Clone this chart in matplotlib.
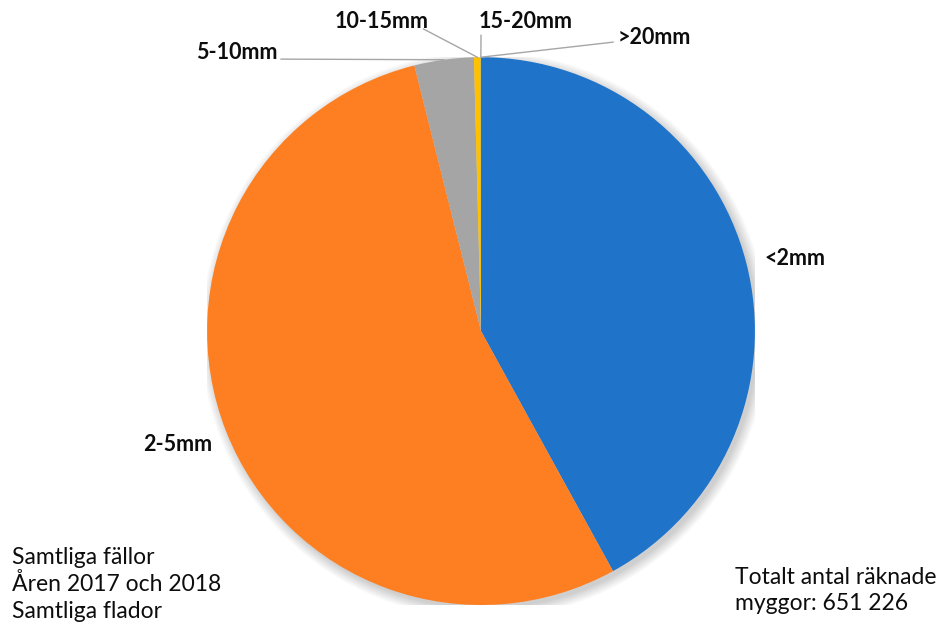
import numpy as np
import matplotlib
matplotlib.use("Agg")
import matplotlib.pyplot as plt
from matplotlib.patches import Circle

# mosquito counts per body-length class
size_classes = ["<2mm", "2-5mm", "5-10mm", "10-15mm", "15-20mm", ">20mm"]
counts = [273500, 352236, 22800, 2600, 60, 30]
colors = ["#1F74C9", "#FD7F22", "#A5A5A5", "#FFC000", "#5B9BD5", "#70AD47"]

# label anchor (data units around the pie) and alignment for each class
label_pos = [(1.035, 0.266), (-1.235, -0.415), (-0.742, 1.017),
             (-0.190, 1.132), (-0.007, 1.132), (0.500, 1.072)]
label_ha = ["left", "left", "right", "right", "left", "left"]
# where each leader line leaves the label (None = no line)
leader_from = [None, None, (-0.73, 0.993), (-0.21, 1.103), (0.0, 1.08), (0.482, 1.055)]

notes_left = ["Samtliga fällor", "Åren 2017 och 2018", "Samtliga flador"]
notes_right = ["Totalt antal räknade", "myggor: 651 226"]

plt.rcParams["font.family"] = ["Lato", "DejaVu Sans"]

fig = plt.figure(figsize=(9.48, 6.37), dpi=100)
ax = fig.add_axes([0.2184, 0.0502, 0.578, 0.860])

# soft drop shadow under the pie
for i in range(8):
    ax.add_patch(Circle((0.012, -0.014), 1.0 + i * 0.005, color="black",
                        alpha=0.025, lw=0, zorder=0))

wedges, _ = ax.pie(counts, colors=colors, startangle=90, counterclock=False,
                   radius=1, wedgeprops=dict(linewidth=0))
for w in wedges:
    w.set_zorder(2)

ax.set_xlim(-1, 1)
ax.set_ylim(-1, 1)
ax.set_aspect("equal")
ax.axis("off")

for w, name, pos, ha, start in zip(wedges, size_classes, label_pos, label_ha, leader_from):
    ax.text(pos[0], pos[1], name, ha=ha, va="center", fontsize=15.5,
            fontweight="bold", color="#0D0D0D")
    if start is not None:
        mid = np.deg2rad((w.theta1 + w.theta2) / 2)
        ax.plot([start[0], np.cos(mid)], [start[1], np.sin(mid)],
                color="#A6A6A6", lw=1, clip_on=False, zorder=3)

for i, line in enumerate(notes_left):
    fig.text(12 / 948, 1 - (557 + 27 * i) / 637, line, ha="left", va="center",
             fontsize=16.5, color="#0D0D0D")
for i, line in enumerate(notes_right):
    fig.text(735 / 948, 1 - (577 + 27 * i) / 637, line, ha="left", va="center",
             fontsize=16.5, color="#0D0D0D")

fig.savefig("out.png", dpi=100, facecolor="white")
